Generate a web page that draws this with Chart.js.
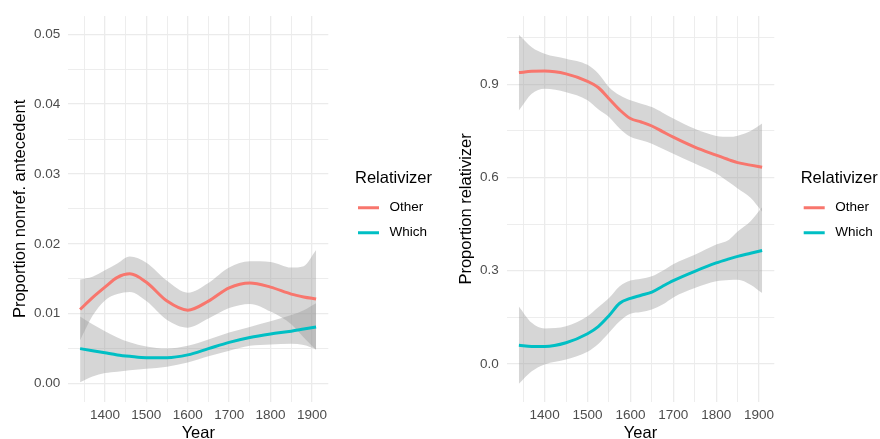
<!DOCTYPE html>
<html lang="en">
<head>
  <meta charset="UTF-8" />
  <title>Relativizer proportions by year</title>
  <script src="https://cdn.jsdelivr.net/npm/chart.js@4"></script>
  <style>
    body { margin: 0; background: #fff; }
    .wrap { display: flex; width: 880px; height: 439px; }
  </style>
</head>
<body>
  <div class="wrap">
    <canvas id="leftChart" width="440" height="439"></canvas>
    <canvas id="rightChart" width="440" height="439"></canvas>
  </div>

  <script>
    // left panel: proportion with a nonreferential antecedent
    const leftYears = [1340, 1370, 1400, 1430, 1460, 1500, 1550, 1600, 1650, 1700, 1750, 1800, 1850, 1880, 1910];
    const leftOther = [0.0106, 0.0123, 0.0138, 0.0152, 0.0157, 0.0145, 0.0118, 0.0105, 0.0118, 0.0137, 0.0144, 0.0138, 0.0128, 0.0124, 0.0121];
    const leftOtherHigh = [0.0149, 0.0153, 0.0162, 0.0172, 0.0182, 0.0173, 0.0147, 0.0130, 0.0144, 0.0166, 0.0175, 0.0174, 0.0166, 0.0168, 0.0191];
    const leftOtherLow = [0.0062, 0.0097, 0.0119, 0.0128, 0.0131, 0.0118, 0.0091, 0.0080, 0.0093, 0.0108, 0.0114, 0.0103, 0.0085, 0.0066, 0.0048];
    const leftWhich = [0.0050, 0.0047, 0.0044, 0.0041, 0.0039, 0.0037, 0.0037, 0.0041, 0.0050, 0.0059, 0.0066, 0.0071, 0.0075, 0.0078, 0.0081];
    const leftWhichHigh = [0.0096, 0.0085, 0.0075, 0.0066, 0.0059, 0.0053, 0.0050, 0.0054, 0.0063, 0.0073, 0.0081, 0.0089, 0.0098, 0.0105, 0.0115];
    const leftWhichLow = [0.0002, 0.0010, 0.0015, 0.0017, 0.0019, 0.0021, 0.0024, 0.0030, 0.0039, 0.0047, 0.0054, 0.0056, 0.0057, 0.0055, 0.0049];

    // right panel: proportion of each relativizer
    const rightYears = [1340, 1370, 1400, 1450, 1500, 1525, 1550, 1575, 1600, 1625, 1650, 1675, 1700, 1750, 1800, 1830, 1850, 1880, 1907];
    const rightOther = [0.938, 0.942, 0.943, 0.934, 0.910, 0.890, 0.854, 0.818, 0.790, 0.779, 0.766, 0.748, 0.730, 0.698, 0.672, 0.657, 0.648, 0.640, 0.633];
    const rightOtherHigh = [1.060, 1.020, 0.999, 0.983, 0.963, 0.935, 0.891, 0.865, 0.849, 0.838, 0.827, 0.809, 0.790, 0.757, 0.734, 0.731, 0.735, 0.750, 0.774];
    const rightOtherLow = [0.816, 0.870, 0.886, 0.875, 0.849, 0.820, 0.795, 0.758, 0.731, 0.720, 0.709, 0.693, 0.677, 0.645, 0.613, 0.585, 0.565, 0.535, 0.490];
    const rightWhich = [0.060, 0.056, 0.056, 0.068, 0.097, 0.120, 0.155, 0.195, 0.211, 0.221, 0.231, 0.250, 0.268, 0.298, 0.325, 0.338, 0.346, 0.356, 0.365];
    const rightWhichHigh = [0.185, 0.132, 0.114, 0.121, 0.153, 0.182, 0.212, 0.250, 0.268, 0.274, 0.282, 0.300, 0.321, 0.351, 0.384, 0.400, 0.426, 0.459, 0.504];
    const rightWhichLow = [-0.064, -0.024, -0.002, 0.014, 0.039, 0.064, 0.100, 0.137, 0.161, 0.167, 0.175, 0.191, 0.214, 0.244, 0.266, 0.270, 0.271, 0.255, 0.228];

    const seriesNames = ['Other', 'Which'];
    const seriesColors = ['#F8766D', '#00BFC4'];
    const legendTitle = 'Relativizer';
    const xTitle = 'Year';

    Chart.defaults.font.family = '"Liberation Sans", Arial, Helvetica, sans-serif';
    Chart.defaults.animation = false;

    const toPoints = (xs, ys) => xs.map((x, i) => ({ x: x, y: ys[i] }));

    function lineSet(label, color, years, vals) {
      return {
        label: label,
        data: toPoints(years, vals),
        borderColor: color,
        backgroundColor: color,
        borderWidth: 3,
        pointRadius: 0,
        cubicInterpolationMode: 'monotone',
        fill: false
      };
    }

    function bandSet(years, vals, fill) {
      return {
        label: '',
        data: toPoints(years, vals),
        borderWidth: 0,
        borderColor: 'rgba(0,0,0,0)',
        backgroundColor: 'rgba(153,153,153,0.4)',
        pointRadius: 0,
        cubicInterpolationMode: 'monotone',
        fill: fill
      };
    }

    function makePanel(id, p) {
      // major grid lines a bit heavier than the minor ones, like ggplot's theme_minimal
      const gridWidth = major => ctx => (ctx.tick && major(ctx.tick.value) ? 1.3 : 0.9);
      const xMajor = v => Math.abs(v % 100) < 1e-6;

      return new Chart(document.getElementById(id), {
        type: 'line',
        data: {
          datasets: [
            lineSet(seriesNames[0], seriesColors[0], p.years, p.other),
            lineSet(seriesNames[1], seriesColors[1], p.years, p.which),
            bandSet(p.years, p.otherLow, false),
            bandSet(p.years, p.otherHigh, '-1'),
            bandSet(p.years, p.whichLow, false),
            bandSet(p.years, p.whichHigh, '-1')
          ]
        },
        options: {
          responsive: false,
          layout: { padding: { top: 14, left: 0, bottom: 0, right: p.padRight } },
          plugins: {
            tooltip: { enabled: false },
            legend: {
              position: 'right',
              fullSize: false,
              maxWidth: 79,
              title: {
                display: true,
                text: legendTitle,
                position: 'start',
                color: '#000',
                font: { size: 16.5 },
                padding: { top: 3.3, bottom: 8.1 }
              },
              labels: {
                usePointStyle: true,
                pointStyleWidth: 21,
                padding: 3,
                color: '#000',
                font: { size: 13.5, lineHeight: 22 / 13.5 },
                generateLabels: chart => chart.data.datasets.slice(0, 2).map((ds, i) => ({
                  text: [' ' + ds.label],
                  fillStyle: ds.borderColor,
                  strokeStyle: ds.borderColor,
                  lineWidth: 3,
                  pointStyle: 'line',
                  fontColor: '#000',
                  hidden: false,
                  datasetIndex: i
                }))
              }
            }
          },
          scales: {
            x: {
              type: 'linear',
              position: 'bottom',
              min: p.xMin,
              max: p.xMax,
              afterFit: s => { s.height = 37.3; },
              border: { display: false },
              grid: { color: '#EBEBEB', lineWidth: gridWidth(xMajor), drawTicks: false },
              ticks: {
                stepSize: 50,
                includeBounds: false,
                autoSkip: false,
                maxRotation: 0,
                padding: 5,
                color: '#4D4D4D',
                font: { size: 13.5 },
                callback: v => (xMajor(v) ? String(v) : '')
              },
              title: {
                display: true,
                text: xTitle,
                color: '#000',
                font: { size: 16.5 },
                padding: { top: 0, bottom: -4 }
              }
            },
            y: {
              type: 'linear',
              position: 'left',
              min: p.yMin,
              max: p.yMax,
              afterFit: s => { s.width = p.yWidth; },
              border: { display: false },
              grid: { color: '#EBEBEB', lineWidth: gridWidth(p.yMajor), drawTicks: false },
              ticks: {
                stepSize: p.yStep,
                includeBounds: false,
                autoSkip: false,
                padding: 8,
                color: '#4D4D4D',
                font: { size: 13.5 },
                callback: v => (p.yMajor(v) ? v.toFixed(p.yDigits) : '')
              },
              title: {
                display: true,
                text: p.yTitle,
                color: '#000',
                font: { size: 16.5 },
                padding: { top: p.yTitlePad, bottom: 0 }
              }
            },
            gap: {
              type: 'linear',
              position: 'right',
              display: true,
              afterFit: s => { s.width = p.gap; },
              border: { display: false },
              grid: { display: false },
              ticks: { display: false }
            }
          }
        }
      });
    }

    makePanel('leftChart', {
      years: leftYears,
      other: leftOther, otherHigh: leftOtherHigh, otherLow: leftOtherLow,
      which: leftWhich, whichHigh: leftWhichHigh, whichLow: leftWhichLow,
      xMin: 1311.5, xMax: 1939.5,
      yMin: -0.0026, yMax: 0.0526, yStep: 0.005, yDigits: 2,
      yMajor: v => Math.abs(Math.round(v * 100) - v * 100) < 1e-6,
      yTitle: 'Proportion nonref. antecedent',
      yWidth: 68.3, yTitlePad: 11, gap: 26.7, padRight: 6
    });

    makePanel('rightChart', {
      years: rightYears,
      other: rightOther, otherHigh: rightOtherHigh, otherLow: rightOtherLow,
      which: rightWhich, whichHigh: rightWhichHigh, whichLow: rightWhichLow,
      xMin: 1311.6, xMax: 1935.4,
      yMin: -0.122, yMax: 1.12, yStep: 0.15, yDigits: 1,
      yMajor: v => Math.abs(Math.round(v / 0.3) * 0.3 - v) < 1e-6,
      yTitle: 'Proportion relativizer',
      yWidth: 66.7, yTitlePad: 17, gap: 26.4, padRight: 0.3
    });
  </script>
</body>
</html>
